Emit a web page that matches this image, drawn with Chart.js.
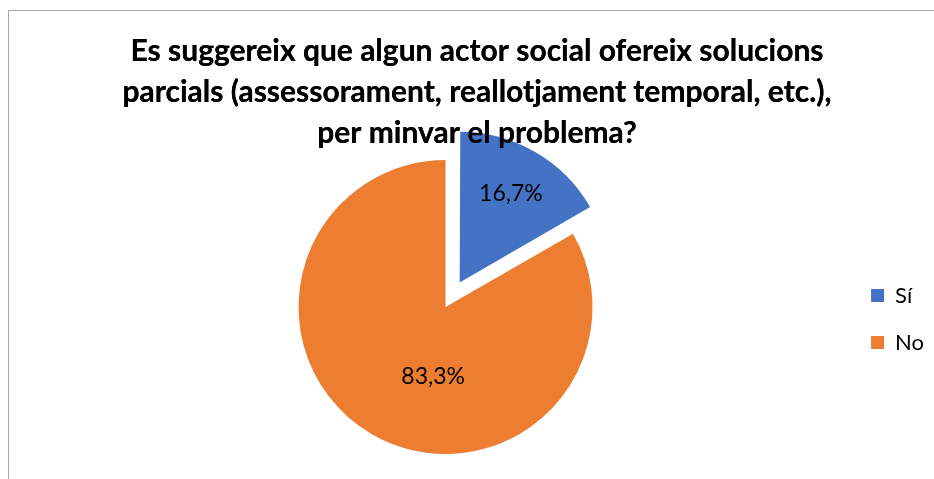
<!DOCTYPE html>
<html>
<head>
<meta charset="utf-8">
<script src="https://cdn.jsdelivr.net/npm/chart.js@4.4.0/dist/chart.umd.min.js"></script>
<style>
  body { margin: 0; background: #fff; }
  #frame { position: absolute; left: 8px; top: 10px; width: 940px; height: 480px; border: 1px solid #a9a9a9; }
  #chart { position: absolute; left: 0; top: 0; }
</style>
</head>
<body>
<div id="frame"></div>
<canvas id="chart" width="934" height="479"></canvas>
<script>
// Data
const categories = ["Sí", "No"];
const shares = [16.7, 83.3];
const sliceColors = ["#4472C4", "#ED7D31"];
const titleLines = [
  "Es suggereix que algun actor social ofereix solucions",
  "parcials (assessorament, reallotjament temporal, etc.),",
  "per minvar el problema?"
];

// Chart.js moves an offset arc by roughly offset * 0.28 for a 60° slice
const sliceOffsets = [113, 0];

// Percentage labels drawn inside each slice
const labelFractions = [0.67, 0.48];
const labelNudge = [0, -20]; // degrees, like Excel's "best fit"
const sliceLabels = {
  id: "sliceLabels",
  afterDatasetsDraw(chart) {
    const ctx = chart.ctx;
    const meta = chart.getDatasetMeta(0);
    ctx.save();
    ctx.font = "23px Lato";
    ctx.fillStyle = "#000";
    ctx.textAlign = "center";
    ctx.textBaseline = "middle";
    meta.data.forEach((arc, i) => {
      const p = arc.getProps(["x", "y", "startAngle", "endAngle", "outerRadius"], true);
      const mid = (p.startAngle + p.endAngle) / 2;
      const shift = i === 0 ? 32 : 0;
      const r = p.outerRadius * labelFractions[i] + shift;
      const a = mid + labelNudge[i] * Math.PI / 180;
      const x = p.x + Math.cos(mid) * shift + Math.cos(a) * (r - shift);
      const y = p.y + Math.sin(mid) * shift + Math.sin(a) * (r - shift);
      ctx.fillText(shares[i].toFixed(1).replace(".", ",") + "%", x, y);
    });
    ctx.restore();
    // title sits on top of the exploded slice, as in Excel
    chart.titleBlock.draw(chart.chartArea);
  }
};

new Chart(document.getElementById("chart"), {
  type: "pie",
  data: {
    labels: categories,
    datasets: [{
      data: shares,
      backgroundColor: sliceColors,
      borderWidth: 0,
      offset: sliceOffsets,
      radius: 147
    }]
  },
  options: {
    responsive: false,
    animation: false,
    layout: { padding: { left: 20, right: 0, top: 0, bottom: 19 } },
    plugins: {
      title: {
        display: true,
        text: titleLines,
        color: "#000",
        font: { family: "Lato", size: 30, weight: "bold", lineHeight: "41px" },
        padding: { top: 31, bottom: 0 }
      },
      legend: {
        position: "right",
        fullSize: false,
        title: { display: true, text: "", font: { size: 10, lineHeight: "49px" }, padding: 0 },
        labels: {
          color: "#000",
          font: { family: "Lato", size: 22, lineHeight: "47px" },
          boxWidth: 13,
          boxHeight: 13,
          padding: 0,
          generateLabels: () => categories.map((c, i) => ({
            text: [c],
            fillStyle: sliceColors[i],
            strokeStyle: sliceColors[i],
            fontColor: "#000",
            lineWidth: 0,
            hidden: false,
            index: i
          }))
        }
      },
      tooltip: { enabled: false }
    }
  },
  plugins: [sliceLabels]
});
</script>
</body>
</html>
